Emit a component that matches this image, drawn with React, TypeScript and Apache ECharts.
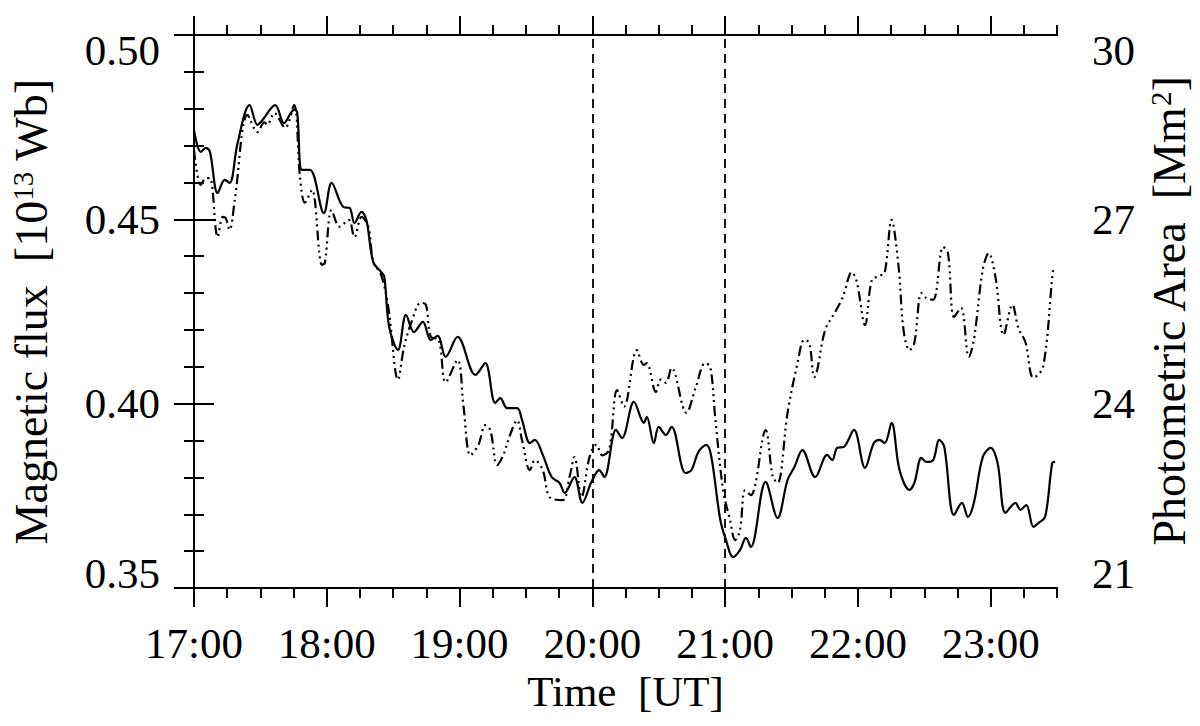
import React, { useEffect, useRef } from 'react';
import * as echarts from 'echarts';

// minutes after 17:00 UT
const fluxTimes = [
  0, 3.1, 5.4, 7.2, 10.7, 13.9, 16.1, 19.7, 25.1, 28.7, 30.9, 36.7, 40.7, 45.2, 46.6, 48.8, 52.4, 58.7, 62.2, 67.6,
  70.3, 72.5, 75.7, 77.9, 81.0, 84.6, 86.0, 88.2, 92.2, 95.8, 99.4, 103.4, 107.0, 110.1, 113.7, 119.1, 127.2, 131.6, 136.1, 138.4,
  141.5, 146.0, 148.2, 151.8, 154.0, 157.6, 161.6, 165.2, 167.5, 171.9, 175.5, 179.6, 183.1, 185.4, 190.7, 193.4, 198.8, 203.3, 204.6, 207.8,
  210.0, 213.2, 215.8, 222.1, 224.8, 227.9, 231.5, 233.7, 237.8, 240.4, 243.6, 246.7, 249.4, 251.6, 258.3, 263.7, 268.2, 271.3, 274.9, 280.7,
  286.1, 288.4, 290.6, 293.7, 298.2, 303.2, 307.2, 309.8, 312.1, 315.2, 318.8, 323.3, 325.5, 328.7, 330.9, 334.0, 336.7, 339.0, 343.4, 347.0,
  349.7, 352.4, 356.4, 360.0, 363.1, 366.7, 371.2, 373.4, 376.1, 379.3, 381.5, 384.6, 387.8, 389.1,
];
// magnetic flux [10^13 Wb]
const fluxValues = [
  0.4742, 0.4683, 0.4694, 0.4683, 0.4571, 0.4607, 0.4599, 0.4707, 0.481, 0.4756, 0.4769, 0.481, 0.4761, 0.4797, 0.4791, 0.4634, 0.4634, 0.4517, 0.4599, 0.4533,
  0.4531, 0.449, 0.452, 0.4498, 0.4384, 0.4357, 0.4344, 0.4208, 0.4146, 0.4241, 0.4194, 0.4222, 0.4173, 0.4184, 0.4127, 0.4181, 0.4078, 0.411, 0.4002, 0.4015,
  0.3988, 0.3988, 0.3956, 0.3893, 0.3902, 0.3861, 0.3801, 0.3785, 0.3758, 0.3801, 0.3731, 0.3788, 0.382, 0.3801, 0.3929, 0.3907, 0.4005, 0.3948, 0.3964, 0.3893,
  0.3937, 0.3915, 0.3937, 0.3812, 0.382, 0.3869, 0.3888, 0.3858, 0.3685, 0.363, 0.3584, 0.3603, 0.3636, 0.3611, 0.3788, 0.369, 0.3793, 0.3828, 0.3874, 0.3801,
  0.3861, 0.3847, 0.388, 0.3883, 0.3929, 0.3826, 0.3893, 0.3902, 0.3893, 0.3948, 0.382, 0.3766, 0.3785, 0.3853, 0.3842, 0.3847, 0.3902, 0.3883, 0.3698, 0.3731,
  0.3693, 0.3731, 0.3855, 0.388, 0.3839, 0.3704, 0.3731, 0.3712, 0.3725, 0.3666, 0.3676, 0.3693, 0.3839, 0.3842,
];

// minutes after 17:00 UT
const areaTimes = [
  0, 3.1, 5.4, 7.2, 10.7, 13.0, 14.3, 16.1, 18.4, 24.2, 28.7, 31.8, 33.1, 36.3, 41.2, 45.2, 47.9, 50.1, 53.3, 57.8,
  59.1, 62.2, 65.8, 69.9, 72.5, 75.7, 78.8, 81.0, 84.6, 87.8, 92.2, 94.9, 98.1, 102.5, 104.8, 107.0, 110.6, 113.7, 119.1, 121.8,
  124.9, 128.5, 131.6, 133.9, 137.0, 139.7, 142.8, 146.0, 148.2, 151.8, 154.0, 157.6, 160.7, 166.6, 169.7, 171.9, 175.1, 178.7, 181.8, 184.5,
  187.6, 191.2, 194.3, 200.1, 203.3, 204.6, 208.7, 210.9, 213.2, 215.8, 222.5, 226.6, 231.0, 233.3, 235.5, 239.1, 242.2, 244.5, 246.7, 249.0,
  251.6, 258.3, 261.5, 263.7, 268.2, 272.7, 275.8, 278.0, 280.3, 281.6, 285.2, 289.7, 293.2, 297.3, 299.5, 303.2, 306.3, 309.8, 312.1, 315.2,
  318.4, 320.6, 323.3, 325.5, 328.7, 330.9, 334.0, 338.5, 340.7, 343.4, 346.6, 350.1, 352.4, 356.4, 359.1, 362.2, 365.8, 369.8, 372.5, 375.7,
  379.3, 383.7, 388.2, 389.1,
];
// photometric area [Mm^2]
const areaValues = [
  28.13, 27.56, 27.67, 27.67, 26.71, 27.04, 27.02, 26.83, 27.31, 28.7, 28.42, 28.58, 28.54, 28.73, 28.49, 28.86, 27.69, 27.27, 27.48, 26.26,
  26.29, 27.15, 26.88, 26.99, 26.71, 27.04, 26.88, 26.31, 26.09, 25.57, 24.39, 24.92, 25.31, 25.64, 25.61, 25.09, 25.04, 24.35, 24.71, 23.95,
  23.16, 23.33, 23.65, 23.57, 23.0, 23.16, 23.49, 23.73, 23.41, 22.92, 23.08, 22.92, 22.48, 22.43, 22.81, 23.13, 22.48, 23.13, 23.33, 23.16,
  23.25, 24.22, 23.95, 24.87, 24.63, 24.66, 24.19, 24.39, 24.34, 24.58, 23.85, 24.25, 24.66, 24.6, 23.78, 22.59, 22.11, 21.78, 21.94, 22.59,
  22.51, 23.57, 22.81, 22.71, 23.85, 24.66, 25.04, 24.99, 24.43, 24.55, 25.2, 25.49, 25.74, 26.14, 25.98, 25.28, 26.01, 26.08, 26.13, 26.99,
  26.22, 25.2, 24.87, 24.99, 25.8, 25.72, 25.69, 26.55, 26.45, 25.41, 25.56, 24.76, 25.04, 26.18, 26.45, 26.05, 25.12, 25.61, 25.23, 25.0,
  24.42, 24.6, 26.18, 26.21,
];

const hourTicks = [0, 60, 120, 180, 240, 300, 360];
const hourLabels = ['17:00', '18:00', '19:00', '20:00', '21:00', '22:00', '23:00'];
const eventTimes = [180, 240]; // 20:00 and 21:00

const FONT = '"Liberation Serif", "Times New Roman", serif';
const BLACK = '#000';

export default function App() {
  const ref = useRef<HTMLDivElement>(null);

  useEffect(() => {
    if (!ref.current) return;
    const chart = echarts.init(ref.current, null, { renderer: 'svg' });
    const lineStyle = { color: BLACK, width: 2 };
    const textBase = { fontFamily: FONT, color: BLACK, fontSize: 43 };
    const nameBase = { fontFamily: FONT, color: BLACK, fontSize: 46 };
    const fmtHour = (v: number) => {
      const i = hourTicks.indexOf(Math.round(v));
      return i >= 0 ? hourLabels[i] : '';
    };
    const majorX = (position: 'top' | 'bottom', labels: boolean) => ({
      type: 'value',
      position,
      min: 0,
      max: 390,
      interval: 60,
      axisLine: { show: true, lineStyle },
      axisTick: { show: true, length: 19, lineStyle, customValues: hourTicks },
      axisLabel: labels
        ? { show: true, customValues: hourTicks, formatter: fmtHour, margin: 34, ...textBase }
        : { show: false },
      splitLine: { show: false },
    });
    const minorX = (position: 'top' | 'bottom') => ({
      type: 'value',
      position,
      min: 0,
      max: 390,
      interval: 15,
      axisLine: { show: false },
      axisTick: { show: true, length: 10, lineStyle },
      axisLabel: { show: false },
      splitLine: { show: false },
    });
    const supRich = { sup: { fontFamily: FONT, color: BLACK, fontSize: 29, verticalAlign: 'top' } };

    chart.setOption({
      animation: false,
      backgroundColor: '#fff',
      grid: { left: 191, right: 138, top: 35, bottom: 138, containLabel: false },
      xAxis: [
        {
          ...majorX('bottom', true),
          name: 'Time  [UT]',
          nameLocation: 'middle',
          nameGap: 78,
          nameTextStyle: { ...textBase, verticalAlign: 'top' },
        },
        majorX('top', false),
        minorX('bottom'),
        minorX('top'),
      ],
      yAxis: [
        {
          type: 'value',
          position: 'left',
          min: 0.35,
          max: 0.5,
          interval: 0.05,
          axisLine: { show: true, lineStyle },
          axisTick: { show: true, length: 20, lineStyle },
          minorTick: { show: true, splitNumber: 5, length: 10, lineStyle },
          axisLabel: {
            ...textBase,
            lineHeight: 30,
            margin: 34,
            showMinLabel: true,
            showMaxLabel: true,
            formatter: (v: number) => v.toFixed(2),
            verticalAlignMaxLabel: 'top',
            verticalAlignMinLabel: 'bottom',
          },
          splitLine: { show: false },
          minorSplitLine: { show: false },
          name: 'Magnetic flux  [10{sup|13} Wb]',
          nameLocation: 'middle',
          nameRotate: 90,
          nameGap: 140,
          nameTextStyle: { ...nameBase, rich: supRich },
        },
        {
          type: 'value',
          position: 'right',
          min: 21,
          max: 30,
          interval: 3,
          axisLine: { show: true, lineStyle },
          axisTick: { show: true, length: 20, lineStyle },
          minorTick: { show: true, splitNumber: 5, length: 10, lineStyle },
          axisLabel: {
            ...textBase,
            lineHeight: 30,
            margin: 35,
            showMinLabel: true,
            showMaxLabel: true,
            formatter: (v: number) => String(Math.round(v)),
            verticalAlignMaxLabel: 'top',
            verticalAlignMinLabel: 'bottom',
          },
          splitLine: { show: false },
          minorSplitLine: { show: false },
          name: 'Photometric Area  [Mm{sup|2}]',
          nameLocation: 'middle',
          nameRotate: 90,
          nameGap: 84,
          nameTextStyle: { ...nameBase, rich: supRich },
        },
      ],
      series: [
        {
          type: 'line',
          name: 'Magnetic flux',
          xAxisIndex: 0,
          yAxisIndex: 0,
          data: fluxTimes.map((t, i) => [t, fluxValues[i]]),
          symbol: 'none',
          showSymbol: false,
          smooth: 0.35,
          lineStyle: { color: BLACK, width: 2.2 },
          markLine: {
            silent: true,
            symbol: ['none', 'none'],
            label: { show: false },
            lineStyle: { color: BLACK, width: 1.8, type: [9, 6] },
            data: eventTimes.map((t) => ({ xAxis: t })),
          },
          z: 3,
        },
        {
          type: 'line',
          name: 'Photometric area',
          xAxisIndex: 0,
          yAxisIndex: 1,
          data: areaTimes.map((t, i) => [t, areaValues[i]]),
          symbol: 'none',
          showSymbol: false,
          smooth: 0.35,
          lineStyle: { color: BLACK, width: 2.2, type: [10, 4, 2, 4, 2, 4, 2, 4] },
          z: 2,
        },
      ],
    });
    return () => chart.dispose();
  }, []);

  return (
    <div
      ref={ref}
      style={{ position: 'absolute', left: 0, top: 0, width: 1200, height: 726, background: '#fff' }}
    />
  );
}
